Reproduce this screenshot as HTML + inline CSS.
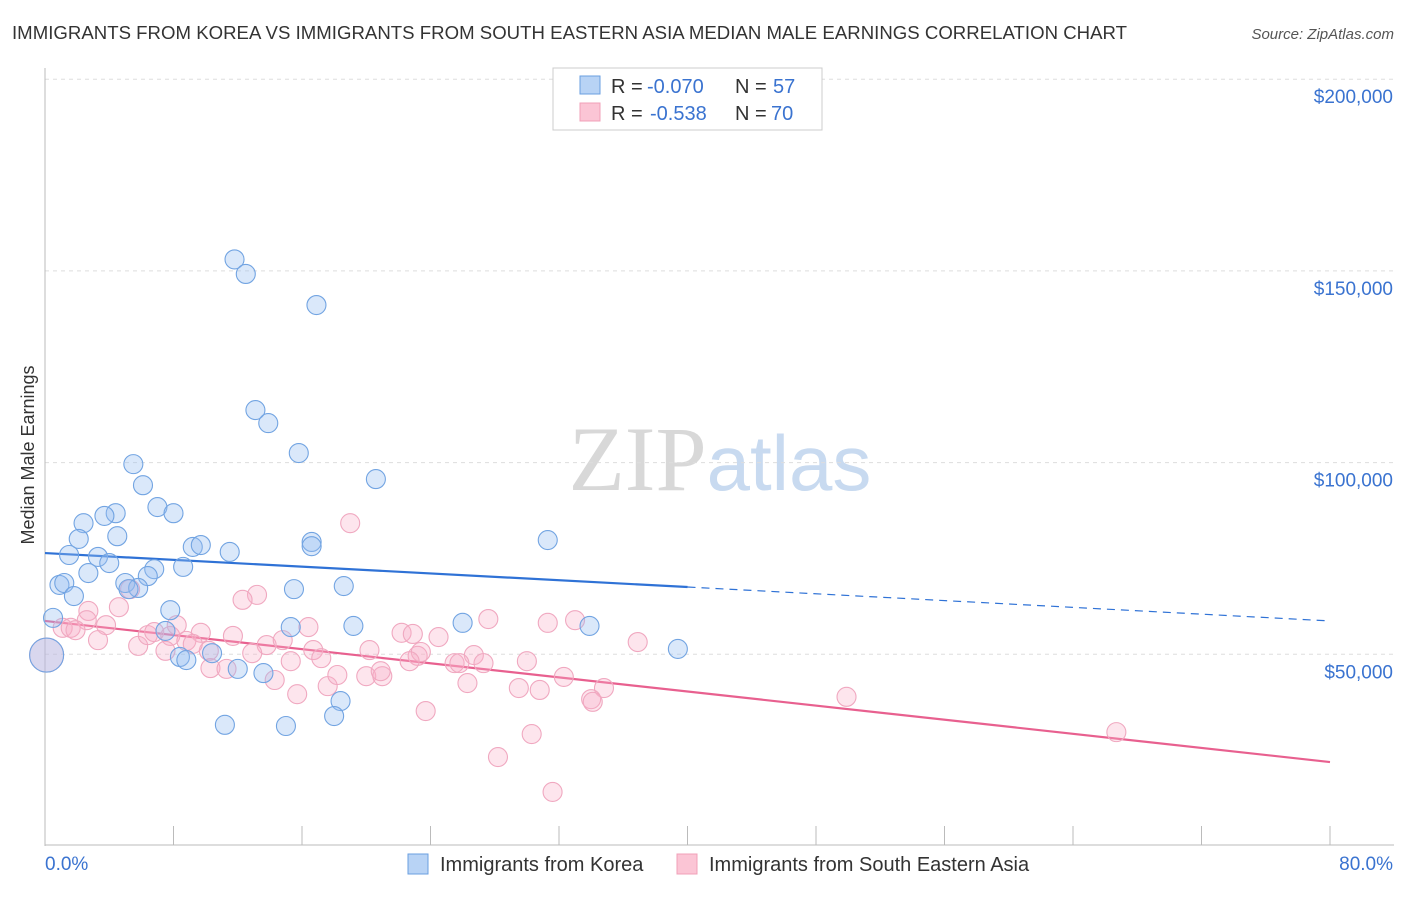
<!DOCTYPE html>
<html><head><meta charset="utf-8"><style>
body{margin:0;background:#fff;font-family:"Liberation Sans",sans-serif;}
svg text{font-family:"Liberation Sans",sans-serif;}
</style></head><body>
<svg id="chart" width="1406" height="892">
<text x="12" y="39" font-size="18.6" fill="#333" textLength="1115">IMMIGRANTS FROM KOREA VS IMMIGRANTS FROM SOUTH EASTERN ASIA MEDIAN MALE EARNINGS CORRELATION CHART</text>
<text x="1394" y="39" font-size="15" fill="#555" font-style="italic" text-anchor="end">Source: ZipAtlas.com</text>
<text x="720" y="490" font-size="92" fill="#ddd" text-anchor="middle" font-family="Liberation Serif"><tspan fill="#d8d8d8" font-family="Liberation Serif">ZIP</tspan><tspan fill="#c8daf0" font-family="Liberation Sans" font-size="78">atlas</tspan></text>
<text transform="translate(34,455) rotate(-90)" font-size="18" fill="#333" text-anchor="middle">Median Male Earnings</text>
<g id="grid"></g><g id="axes"></g><g id="lines"></g><g id="pts"></g>
<g>
<rect x="553" y="68" width="269" height="62" fill="#fff" stroke="#ccc"/>
<rect x="580" y="76" width="20" height="18" fill="#b8d3f5" stroke="#6a9fe0"/>
<rect x="580" y="103" width="20" height="18" fill="#fbc5d5" stroke="#f0a0b8"/>
<text y="93" font-size="20" fill="#333"><tspan x="611">R =</tspan><tspan x="647" fill="#3a73d0">-0.070</tspan><tspan x="735">N =</tspan><tspan x="773" fill="#3a73d0">57</tspan></text>
<text y="120" font-size="20" fill="#333"><tspan x="611">R =</tspan><tspan x="650" fill="#3a73d0">-0.538</tspan><tspan x="735">N =</tspan><tspan x="771" fill="#3a73d0">70</tspan></text>
</g>
<g>
<rect x="408" y="854" width="20" height="20" fill="#b8d3f5" stroke="#6a9fe0"/>
<text x="440" y="871" font-size="20" fill="#333">Immigrants from Korea</text>
<rect x="677" y="854" width="20" height="20" fill="#fbc5d5" stroke="#f0a0b8"/>
<text x="709" y="871" font-size="20" fill="#333">Immigrants from South Eastern Asia</text>
</g>
</svg>
<script>
const xTickVals=[0,8,16,24,32,40,48,56,64,72,80];
const yTickVals=[50000,100000,150000,200000];
const yTickLabels=["$50,000","$100,000","$150,000","$200,000"];
const koreaX=[11.8,12.5,16.9,13.1,13.9,15.8,5.5,20.6,6.1,7.0,8.0,4.4,3.7,2.4,4.5,31.3,2.1,16.6,16.6,9.2,9.7,11.5,1.5,3.3,4.0,2.7,8.6,6.8,6.4,5.0,5.8,5.2,0.9,1.2,15.5,18.6,1.8,7.8,0.5,26.0,33.9,19.2,15.3,7.5,10.4,8.4,8.8,39.4,12.0,13.6,18.4,18.0,11.2,15.0,0.1];
const koreaY=[153.0,149.2,141.1,113.7,110.3,102.5,99.6,95.7,94.1,88.4,86.8,86.8,86.1,84.2,80.8,79.8,80.1,79.3,78.2,78.0,78.5,76.7,75.9,75.4,73.8,71.2,72.8,72.2,70.4,68.6,67.3,67.0,68.1,68.6,67.0,67.8,65.2,61.5,59.5,58.2,57.4,57.4,57.1,56.1,50.3,49.3,48.5,51.4,46.2,45.1,37.8,33.9,31.6,31.3,49.8];
const seaX=[19.0,13.2,12.3,5.3,2.7,4.6,2.6,3.8,1.1,1.6,1.9,3.3,5.8,6.4,6.8,7.8,8.8,8.2,9.7,11.7,13.8,14.8,16.4,22.2,24.5,22.9,27.6,31.3,33.0,36.9,7.5,10.2,12.9,16.7,17.2,20.2,23.2,23.4,25.5,26.7,27.3,30.0,15.3,10.3,11.3,14.3,15.7,17.6,18.2,20.0,21.0,20.9,22.7,25.8,26.3,29.5,30.8,32.3,34.8,34.0,34.1,49.9,23.7,30.3,28.2,31.6,66.7,0.1,9.2];
const seaY=[84.2,65.5,64.2,67.0,61.3,62.3,58.9,57.6,56.9,56.9,56.3,53.7,52.2,55.0,55.8,54.8,53.5,57.6,55.6,54.8,52.4,53.7,57.1,55.6,54.5,55.3,59.2,58.2,58.9,53.2,50.9,50.9,50.3,51.1,49.0,51.1,49.6,50.6,47.7,49.8,47.7,48.2,48.2,46.4,46.2,43.3,39.6,41.7,44.6,44.3,44.3,45.6,48.2,47.7,42.5,41.2,40.7,44.1,41.2,38.3,37.6,38.9,35.2,29.2,23.2,14.1,29.7,49.8,52.7];
const koreaTrend=[76.4,58.7];
const seaTrend=[58.7,21.9];
const NS="http://www.w3.org/2000/svg";
const xS=v=>45+v*(1285/80);
const yS=k=>846-k*(191.7/50);
function mk(tag,attrs,parent){const e=document.createElementNS(NS,tag);for(const k in attrs)e.setAttribute(k,attrs[k]);document.getElementById(parent).appendChild(e);return e;}
yTickVals.forEach((v,i)=>{
 const l=mk('line',{x1:45,x2:1394,y1:yS(v/1000),y2:yS(v/1000),stroke:'#ddd','stroke-dasharray':'4,4'},'grid');
 
 
 const t=mk('text',{x:1393,y:yS(v/1000)+24,'font-size':19,fill:'#3a73d0','text-anchor':'end'},'grid');
 t.textContent=yTickLabels[i];
 
 
});
const ya=mk('line',{x1:45,x2:45,y1:68,y2:846,stroke:'#bbb'},'axes');


const xa=mk('line',{x1:45,x2:1394,y1:845,y2:845,stroke:'#bbb'},'axes');


xTickVals.forEach(v=>{
 const t=mk('line',{x1:xS(v),x2:xS(v),y1:826,y2:845,stroke:'#bbb'},'axes');
 
 
});
const xl0=mk('text',{x:45,y:870,'font-size':19,fill:'#3a73d0'},'axes');xl0.textContent=xTickVals[0].toFixed(1)+'%';


const xl1=mk('text',{x:1393,y:870,'font-size':19,fill:'#3a73d0','text-anchor':'end'},'axes');xl1.textContent=xTickVals[10].toFixed(1)+'%';


function pts(X,Y,fill,stroke,name){X.forEach((x,i)=>{const big=(i===X.length-1&&name==='korea-point')||(name==='sea-point'&&i===X.length-2);
 const c=mk('circle',{cx:xS(x),cy:yS(Y[i]),r:big?17:9.5,fill:fill,stroke:stroke,'stroke-width':1.1},'pts');
 
 });}
pts(seaX,seaY,'rgba(248,175,198,0.32)','#f0a8c0','sea-point');
pts(koreaX,koreaY,'rgba(150,190,240,0.35)','#72a4e2','korea-point');
const kAt=x=>koreaTrend[0]+(koreaTrend[1]-koreaTrend[0])*x/80;
const k1=mk('line',{x1:xS(0),y1:yS(kAt(0)),x2:xS(40),y2:yS(kAt(40)),stroke:'#2f72d6','stroke-width':2.2},'lines');


const k2=mk('line',{x1:xS(40),y1:yS(kAt(40)),x2:xS(80),y2:yS(kAt(80)),stroke:'#2f72d6','stroke-width':1.2,'stroke-dasharray':'8,6'},'lines');


const s1=mk('line',{x1:xS(0),y1:yS(seaTrend[0]),x2:xS(80),y2:yS(seaTrend[1]),stroke:'#e8608f','stroke-width':2.2},'lines');


</script>
</body></html>
